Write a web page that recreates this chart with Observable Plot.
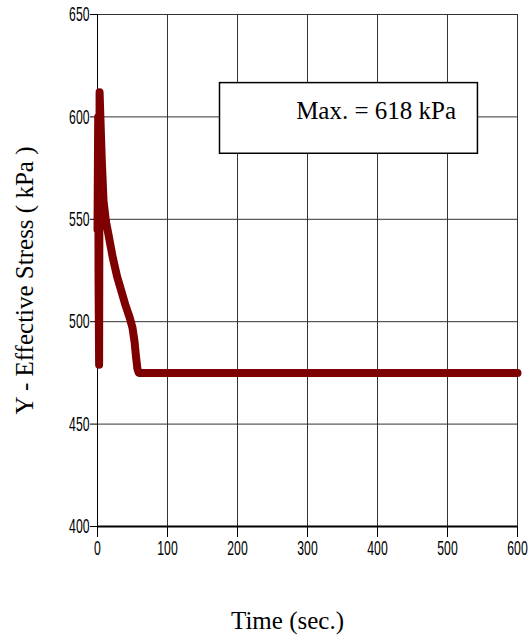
<!DOCTYPE html>
<html>
<head>
<meta charset="utf-8">
<script src="https://cdn.jsdelivr.net/npm/d3@7"></script>
<script src="https://cdn.jsdelivr.net/npm/@observablehq/plot@0.6"></script>
<style>
  html, body { margin: 0; padding: 0; background: white; }
  svg text.tick-num { font-size: 21px !important; }
</style>
</head>
<body>
<div id="chart"></div>
<script>
// ---- data ----
const time   = [0, 1, 1.5, 2.3, 3, 6, 8.6, 12, 16, 22, 28, 34, 40, 46, 50, 53, 55, 57, 59, 100, 200, 300, 400, 500, 600];
const stress = [545, 600, 520, 479, 612, 580, 559, 549, 542, 531, 522, 515, 508, 502, 497, 490, 483, 477, 475, 475, 475, 475, 475, 475, 475];
const xTicks = [0, 100, 200, 300, 400, 500, 600];
const yTicks = [400, 450, 500, 550, 600, 650];
const xTitle = "Time (sec.)";
const yTitle = "Y - Effective Stress ( kPa )";
const noteText = ["Max. = 618 kPa"];
const noteBox = [{x1: 175, x2: 543.5, y1: 582, y2: 616.5}];
const noteAt = [{x: 398, y: 603}];

const series = time.map((t, i) => ({t, s: stress[i]}));
const note = noteAt.map((p, i) => ({...p, label: noteText[i]}));

const serif = "'Liberation Serif', 'Times New Roman', Times, serif";

const chart = Plot.plot({
  width: 529,
  height: 638,
  marginLeft: 97,
  marginRight: 12,
  marginTop: 14,
  marginBottom: 112,
  style: {fontFamily: "'Liberation Sans', Arial, sans-serif", fontSize: "21px", color: "black", background: "white"},
  x: {domain: [0, 600], ticks: xTicks, tickSize: 11, tickPadding: 3, label: null, tickFormat: d => String(d)},
  y: {domain: [400, 650], ticks: yTicks, tickSize: 7, tickPadding: 1, label: null, tickFormat: d => String(d)},
  marks: [
    Plot.ruleX(xTicks, {stroke: "#333", strokeWidth: 1}),
    Plot.ruleY(yTicks, {stroke: "#333", strokeWidth: 1}),
    Plot.ruleX([0], {stroke: "black", strokeWidth: 1}),
    Plot.ruleY([400], {stroke: "black", strokeWidth: 2}),
    Plot.line(series, {x: "t", y: "s", stroke: "#7f0000", strokeWidth: 8, strokeLinejoin: "round"}),
    Plot.rect(noteBox, {x1: "x1", x2: "x2", y1: "y1", y2: "y2", fill: "white", stroke: "black", strokeWidth: 1.5}),
    Plot.text(note, {x: "x", y: "y", text: "label", fontFamily: serif, fontSize: 25, fill: "black"}),
    Plot.text([xTitle], {text: d => d, frameAnchor: "bottom", textAnchor: "middle", dx: -20, dy: 102, fontFamily: serif, fontSize: 25, fill: "black"}),
    Plot.text([yTitle], {text: d => d, frameAnchor: "left", textAnchor: "middle", rotate: -90, dx: -73, dy: 10, fontFamily: serif, fontSize: 25, fill: "black"})
  ]
});

// condensed tick labels
chart.querySelectorAll("text").forEach(t => {
  const s = t.textContent.trim();
  if (/^\d+$/.test(s)) {
    t.classList.add("tick-num");
    t.setAttribute("font-size", "21");
    t.style.setProperty("font-size", "21px", "important");
    t.setAttribute("textLength", s.length * 6.8);
    t.setAttribute("lengthAdjust", "spacingAndGlyphs");
  }
});
chart.querySelectorAll("g").forEach(g => {
  if (g.getAttribute("font-size") && /axis/.test(g.getAttribute("aria-label") || "")) g.setAttribute("font-size", "21");
});

document.getElementById("chart").appendChild(chart);
</script>
</body>
</html>
